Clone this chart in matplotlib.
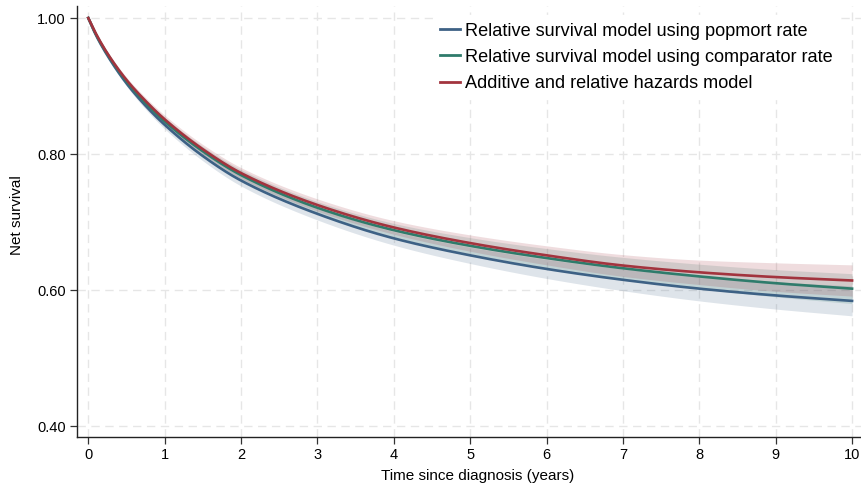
import numpy as np
import matplotlib
matplotlib.use("Agg")
import matplotlib.pyplot as plt

plt.rcParams['font.family'] = ['Liberation Sans', 'DejaVu Sans']

# Follow-up times (years) at which net survival is tabulated
time = [0, 0.1, 0.25, 0.5, 0.75, 1, 1.5, 2, 3, 4, 5, 6, 7, 8, 9, 10]

# Net survival estimates for each model
surv_popmort = [1.000, 0.975, 0.945, 0.904, 0.871, 0.843, 0.797, 0.761, 0.712,
                0.676, 0.651, 0.631, 0.615, 0.602, 0.592, 0.584]
surv_comparator = [1.000, 0.976, 0.947, 0.907, 0.875, 0.848, 0.804, 0.769, 0.721,
                   0.688, 0.665, 0.647, 0.632, 0.620, 0.610, 0.602]
surv_additive = [1.000, 0.977, 0.948, 0.909, 0.878, 0.851, 0.807, 0.772, 0.725,
                 0.692, 0.669, 0.651, 0.636, 0.626, 0.619, 0.614]

# Half-width of the 95% confidence intervals
ci_popmort = [0.000, 0.002, 0.003, 0.004, 0.005, 0.006, 0.007, 0.008, 0.009,
              0.010, 0.012, 0.014, 0.016, 0.018, 0.020, 0.022]
ci_comparator = [0.000, 0.002, 0.003, 0.004, 0.005, 0.006, 0.007, 0.008, 0.009,
                 0.010, 0.012, 0.014, 0.016, 0.018, 0.020, 0.022]
ci_additive = [0.000, 0.002, 0.003, 0.004, 0.005, 0.006, 0.007, 0.008, 0.009,
               0.010, 0.012, 0.014, 0.016, 0.018, 0.021, 0.023]

labels = ["Relative survival model using popmort rate",
          "Relative survival model using comparator rate",
          "Additive and relative hazards model"]
colors = ["#3d6185", "#2f7b6b", "#a2343e"]

xticks = list(range(0, 11))
yticks = [0.40, 0.60, 0.80, 1.00]

fig = plt.figure(figsize=(8.62, 4.84), dpi=100)
ax = fig.add_axes([0.0893, 0.0965, 0.9107, 0.891])


def smooth(x, y, n=500):
    """Monotone (Fritsch-Carlson) cubic through the tabulated points."""
    x = np.asarray(x, float)
    y = np.asarray(y, float)
    xs = np.linspace(x[0], x[-1], n)
    h = np.diff(x)
    d = np.diff(y) / h
    m = np.zeros_like(y)
    m[0] = d[0]
    m[-1] = d[-1]
    for i in range(1, len(y) - 1):
        if d[i - 1] * d[i] <= 0:
            m[i] = 0
        else:
            w1 = 2 * h[i] + h[i - 1]
            w2 = h[i] + 2 * h[i - 1]
            m[i] = (w1 + w2) / (w1 / d[i - 1] + w2 / d[i])
    idx = np.clip(np.searchsorted(x, xs) - 1, 0, len(x) - 2)
    t = (xs - x[idx]) / h[idx]
    h00 = 2 * t**3 - 3 * t**2 + 1
    h10 = t**3 - 2 * t**2 + t
    h01 = -2 * t**3 + 3 * t**2
    h11 = t**3 - t**2
    ys = h00 * y[idx] + h10 * h[idx] * m[idx] + h01 * y[idx + 1] + h11 * h[idx] * m[idx + 1]
    return xs, ys


series = [(surv_popmort, ci_popmort), (surv_comparator, ci_comparator),
          (surv_additive, ci_additive)]

for (s, ci), c in zip(series, colors):
    lo = np.asarray(s) - np.asarray(ci)
    hi = np.asarray(s) + np.asarray(ci)
    xs, ylo = smooth(time, lo)
    _, yhi = smooth(time, hi)
    ax.fill_between(xs, ylo, yhi, color=c, alpha=0.17, linewidth=0, zorder=2)

for (s, ci), c, lab in zip(series, colors, labels):
    xs, ys = smooth(time, s)
    ax.plot(xs, ys, color=c, lw=1.9, label=lab, zorder=3)

ax.set_xlim(-0.148, 10.13)
ax.set_ylim(0.3834, 1.0176)
ax.set_xticks(xticks)
ax.set_yticks(yticks)
ax.set_yticklabels([f"{v:.2f}" for v in yticks])
ax.tick_params(axis='both', direction='out', length=5, width=0.9,
               labelsize=10.5, color='#333333', pad=3)

ax.grid(True, color='#e6e6e6', linestyle=(0, (6, 4)), linewidth=1.0, zorder=0)
ax.set_axisbelow(True)

for side in ['top', 'right']:
    ax.spines[side].set_visible(False)
for side in ['left', 'bottom']:
    ax.spines[side].set_linewidth(1.0)
    ax.spines[side].set_color('#222222')

ax.set_xlabel("Time since diagnosis (years)", fontsize=11.0)
ax.set_ylabel("Net survival", fontsize=11.0)
ax.xaxis.set_label_coords(0.51, -0.073)
ax.yaxis.set_label_coords(-0.068, 0.515)

leg = ax.legend(loc='upper left', bbox_to_anchor=(0.502, 0.968),
                bbox_transform=fig.transFigure, frameon=True,
                fontsize=13.1, handlelength=1.1, handletextpad=0.27,
                labelspacing=0.5, borderpad=0.4, borderaxespad=0.0)
leg.get_frame().set_facecolor('white')
leg.get_frame().set_edgecolor('white')
leg.get_frame().set_alpha(1.0)
for line in leg.get_lines():
    line.set_linewidth(2.0)

fig.savefig("out.png", dpi=100, facecolor='white')
